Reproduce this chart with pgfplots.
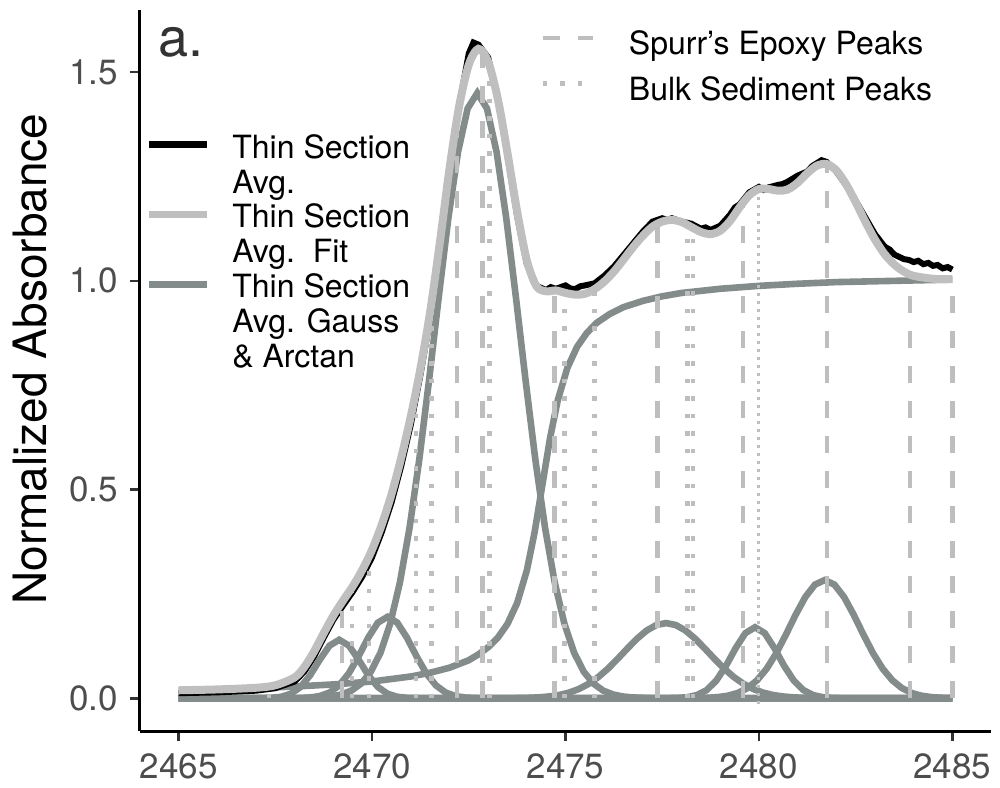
\documentclass[border=0pt]{standalone}
\usepackage{pgfplots}
\pgfplotsset{compat=1.18}
\usepackage{fontspec}
\setmainfont{TeX Gyre Heros}
\definecolor{fitc}{RGB}{191,191,191}
\definecolor{compc}{RGB}{131,139,139}
\definecolor{segc}{RGB}{190,190,190}
\definecolor{tickc}{RGB}{77,77,77}
\newcommand{\lstrut}{\rule[-4.5pt]{0pt}{19.5pt}}
\newcommand{\rstrut}{\rule[-7.75pt]{0pt}{26pt}}
\begin{document}
\begin{tikzpicture}
\pgfplotsset{
  base/.style={
    scale only axis, width=425.5pt, height=360.5pt,
    xmin=2464, xmax=2486, ymin=-0.0786, ymax=1.649,
    legend cell align=left,
  },
  comp/.style={line width=3.3pt, color=compc, forget plot},
  dsh/.style={line width=2.3pt, color=segc, dash pattern=on 8.75pt off 8.75pt, forget plot},
  dtt/.style={line width=2.3pt, color=segc, dash pattern=on 2.2pt off 6.55pt, forget plot},
}
\begin{axis}[base,
  axis x line*=bottom, axis y line*=left,
  axis line style={line width=1.5pt, black},
  xtick={2465,2470,2475,2480,2485}, xticklabels={2465,2470,2475,2480,2485},
  ytick={0,0.5,1,1.5}, yticklabels={0.0,0.5,1.0,1.5},
  tick align=outside, major tick length=5pt,
  tick style={line width=1.3pt, color=black!80},
  ticklabel style={font=\fontsize{17.5}{20}\selectfont, text=tickc},
  xticklabel style={yshift=-3pt},
  yticklabel style={xshift=-2.5pt},
  /pgf/number format/assume math mode=true,
  ylabel={Normalized Absorbance},
  ylabel style={font=\fontsize{23}{26}\selectfont, at={(axis description cs:-0.1293,0.516)}, anchor=center},
  legend image code/.code={\draw[#1] (0pt,0pt) -- (29pt,0pt);},
  legend style={at={(rel axis cs:0.00588,0.8364)}, anchor=north west, draw=none, fill=none,
    inner sep=0pt, column sep=11pt, row sep=0.9pt, nodes={inner sep=0pt},
    font=\fontsize{16}{18}\selectfont},
]
% Gaussian components
\addplot[comp] coordinates {(2465,0) (2467.15,0) (2467.4,0.0009) (2467.65,0.0034) (2467.9,0.0106) (2468.15,0.0268) (2468.4,0.0552) (2468.65,0.0926) (2468.9,0.126) (2469.15,0.14) (2469.4,0.126) (2469.65,0.0926) (2469.9,0.0552) (2470.15,0.0268) (2470.4,0.0106) (2470.65,0.0034) (2470.9,0.0009) (2471.15,0) (2485,0)};
\addplot[comp] coordinates {(2465,0) (2467.9,0) (2468.15,0.0005) (2468.4,0.0017) (2468.65,0.0052) (2468.9,0.0136) (2469.15,0.0307) (2469.4,0.0597) (2469.65,0.1002) (2469.9,0.1451) (2470.15,0.1811) (2470.4,0.195) (2470.65,0.1811) (2470.9,0.1451) (2471.15,0.1002) (2471.4,0.0597) (2471.65,0.0307) (2471.9,0.0136) (2472.15,0.0052) (2472.4,0.0017) (2472.65,0.0005) (2472.9,0) (2485,0)};
\addplot[comp] coordinates {(2465,0) (2467.72,0) (2468.22,0.0003) (2468.72,0.0019) (2468.97,0.0043) (2469.22,0.0092) (2469.47,0.0184) (2469.72,0.0352) (2469.97,0.0637) (2470.22,0.1096) (2470.47,0.179) (2470.72,0.2777) (2470.97,0.409) (2471.22,0.572) (2471.47,0.760) (2471.72,0.959) (2471.97,1.149) (2472.22,1.308) (2472.47,1.413) (2472.72,1.45) (2472.97,1.413) (2473.22,1.308) (2473.47,1.149) (2473.72,0.959) (2473.97,0.760) (2474.22,0.572) (2474.47,0.409) (2474.72,0.2777) (2474.97,0.179) (2475.22,0.1096) (2475.47,0.0637) (2475.72,0.0352) (2475.97,0.0184) (2476.22,0.0092) (2476.47,0.0043) (2476.72,0.0019) (2477.22,0.0003) (2477.72,0) (2485,0)};
\addplot[comp] coordinates {(2465,0) (2473.35,0) (2473.6,0.0002) (2473.85,0.0005) (2474.1,0.0011) (2474.35,0.0023) (2474.6,0.0044) (2474.85,0.0079) (2475.1,0.0136) (2475.35,0.0222) (2475.6,0.0345) (2475.85,0.0508) (2476.1,0.0710) (2476.35,0.0944) (2476.6,0.1191) (2476.85,0.1427) (2477.1,0.1623) (2477.35,0.1754) (2477.6,0.18) (2477.85,0.1754) (2478.1,0.1623) (2478.35,0.1427) (2478.6,0.1191) (2478.85,0.0944) (2479.1,0.0710) (2479.35,0.0508) (2479.6,0.0345) (2479.85,0.0222) (2480.1,0.0136) (2480.35,0.0079) (2480.6,0.0044) (2480.85,0.0023) (2481.1,0.0011) (2481.35,0.0005) (2481.6,0.0002) (2481.85,0) (2485,0)};
\addplot[comp] coordinates {(2465,0) (2477.4,0) (2477.65,0.0002) (2477.9,0.0007) (2478.15,0.0024) (2478.4,0.0075) (2478.65,0.0194) (2478.9,0.0424) (2479.15,0.0778) (2479.4,0.1201) (2479.65,0.1559) (2479.9,0.17) (2480.15,0.1559) (2480.4,0.1201) (2480.65,0.0778) (2480.9,0.0424) (2481.15,0.0194) (2481.4,0.0075) (2481.65,0.0024) (2481.9,0.0007) (2482.15,0.0002) (2482.4,0) (2485,0)};
\addplot[comp] coordinates {(2465,0) (2478.2,0) (2478.45,0.0004) (2478.7,0.0011) (2478.95,0.0027) (2479.2,0.0060) (2479.45,0.0124) (2479.7,0.0240) (2479.95,0.0427) (2480.2,0.0706) (2480.45,0.1079) (2480.7,0.1527) (2480.95,0.2000) (2481.2,0.2425) (2481.45,0.2723) (2481.7,0.283) (2481.95,0.2723) (2482.2,0.2425) (2482.45,0.2000) (2482.7,0.1527) (2482.95,0.1079) (2483.2,0.0706) (2483.45,0.0427) (2483.7,0.0240) (2483.95,0.0124) (2484.2,0.0060) (2484.45,0.0027) (2484.7,0.0011) (2484.95,0.0004) (2485,0)};
% arctan step
\addplot[comp] coordinates {(2465,0.019) (2466,0.021) (2467,0.024) (2468,0.028) (2469,0.033) (2470,0.040) (2470.5,0.046) (2471,0.052) (2471.5,0.061) (2472,0.073) (2472.5,0.091) (2472.75,0.105) (2473,0.122) (2473.25,0.145) (2473.5,0.178) (2473.75,0.228) (2474,0.306) (2474.2,0.397) (2474.4,0.510) (2474.6,0.623) (2474.8,0.714) (2475.05,0.792) (2475.3,0.842) (2475.55,0.875) (2475.8,0.899) (2476.15,0.921) (2476.5,0.937) (2477,0.952) (2477.5,0.963) (2478,0.971) (2479,0.981) (2480,0.988) (2481,0.993) (2482,0.997) (2483,0.999) (2484,1.001) (2485,1.003)};
% measured average
\addplot[line width=3pt, black, forget plot] coordinates {(2465,0.012) (2466,0.014) (2467,0.018) (2467.5,0.024) (2468,0.040) (2468.25,0.064) (2468.5,0.100) (2468.75,0.145) (2469,0.188) (2469.25,0.222) (2469.5,0.255) (2469.75,0.292) (2470,0.338) (2470.25,0.398) (2470.5,0.468) (2470.75,0.555) (2471,0.655) (2471.25,0.775) (2471.5,0.910) (2471.75,1.080) (2472,1.262) (2472.25,1.42) (2472.5,1.545) (2472.62,1.571) (2472.75,1.566) (2473,1.535) (2473.25,1.44) (2473.5,1.30) (2473.75,1.155) (2474,1.04) (2474.25,0.988) (2474.5,0.978) (2474.62,0.985) (2474.75,0.981) (2475,0.989) (2475.12,0.982) (2475.25,0.980) (2475.38,0.987) (2475.5,0.989) (2475.75,0.994) (2476,1.012) (2476.25,1.034) (2476.5,1.062) (2476.75,1.09) (2477,1.118) (2477.25,1.142) (2477.5,1.150) (2477.62,1.146) (2477.75,1.150) (2478,1.142) (2478.25,1.137) (2478.5,1.125) (2478.62,1.128) (2478.75,1.122) (2479,1.132) (2479.25,1.158) (2479.38,1.176) (2479.5,1.183) (2479.75,1.212) (2480,1.225) (2480.12,1.218) (2480.25,1.224) (2480.5,1.230) (2480.62,1.232) (2480.75,1.238) (2481,1.252) (2481.25,1.262) (2481.38,1.275) (2481.5,1.282) (2481.62,1.289) (2481.75,1.285) (2482,1.262) (2482.25,1.230) (2482.5,1.192) (2482.75,1.152) (2483,1.112) (2483.25,1.082) (2483.38,1.075) (2483.5,1.063) (2483.75,1.052) (2483.88,1.050) (2484,1.045) (2484.12,1.048) (2484.25,1.040) (2484.38,1.043) (2484.5,1.036) (2484.62,1.038) (2484.75,1.030) (2484.88,1.033) (2485,1.027)};
% fit
\addplot[line width=4pt, color=fitc, smooth, forget plot] coordinates {(2465,0.019) (2466,0.021) (2467,0.025) (2467.5,0.031) (2468,0.050) (2468.25,0.075) (2468.5,0.112) (2468.75,0.156) (2469,0.198) (2469.25,0.234) (2469.5,0.268) (2469.75,0.308) (2470,0.356) (2470.25,0.416) (2470.5,0.488) (2470.75,0.575) (2471,0.675) (2471.25,0.790) (2471.5,0.925) (2471.75,1.090) (2472,1.268) (2472.25,1.418) (2472.5,1.518) (2472.75,1.556) (2473,1.525) (2473.25,1.436) (2473.5,1.306) (2473.75,1.166) (2474,1.049) (2474.25,0.987) (2474.5,0.975) (2474.75,0.977) (2475,0.971) (2475.25,0.967) (2475.5,0.969) (2475.75,0.980) (2476,0.998) (2476.25,1.022) (2476.5,1.051) (2476.75,1.081) (2477,1.108) (2477.25,1.130) (2477.5,1.142) (2477.75,1.146) (2478,1.141) (2478.25,1.129) (2478.5,1.117) (2478.75,1.112) (2479,1.120) (2479.25,1.143) (2479.5,1.176) (2479.75,1.205) (2480,1.220) (2480.25,1.220) (2480.5,1.216) (2480.75,1.219) (2481,1.235) (2481.25,1.258) (2481.5,1.276) (2481.75,1.280) (2482,1.265) (2482.25,1.232) (2482.5,1.189) (2482.75,1.142) (2483,1.099) (2483.25,1.064) (2483.5,1.039) (2483.75,1.022) (2484,1.012) (2484.5,1.005) (2485,1.004)};
\node[font=\fontsize{27}{30}\selectfont, text=black!80] at (axis cs:2465.05,1.572) {a.};
\addlegendimage{line width=3.5pt, black}
\addlegendentry{\lstrut Thin Section}
\addlegendimage{empty legend}
\addlegendentry{\lstrut Avg.}
\addlegendimage{line width=3.5pt, fitc}
\addlegendentry{\lstrut Thin Section}
\addlegendimage{empty legend}
\addlegendentry{\lstrut Avg.\ \ Fit}
\addlegendimage{line width=3.5pt, compc}
\addlegendentry{\lstrut Thin Section}
\addlegendimage{empty legend}
\addlegendentry{\lstrut Avg. Gauss}
\addlegendimage{empty legend}
\addlegendentry{\lstrut \& Arctan}
\end{axis}
\begin{axis}[base, hide axis,
  legend image code/.code={\draw[#1] (0pt,0pt) -- (25pt,0pt);},
  legend style={at={(rel axis cs:0.470,0.989)}, anchor=north west, draw=none, fill=none,
    inner sep=0pt, column sep=17pt, row sep=3pt, nodes={inner sep=0pt},
    font=\fontsize{16}{18}\selectfont},
]
% Spurr's epoxy peaks (dashed)
\addplot[dsh] coordinates {(2469.22,0) (2469.22,0.238)};
\addplot[dsh] coordinates {(2472.2,0) (2472.2,1.39)};
\addplot[dsh] coordinates {(2472.85,0) (2472.85,1.543)};
\addplot[dsh] coordinates {(2474.71,0) (2474.71,0.977)};
\addplot[dsh] coordinates {(2477.38,0) (2477.38,1.136)};
\addplot[dsh] coordinates {(2479.59,0) (2479.59,1.186)};
\addplot[dsh] coordinates {(2481.76,0) (2481.76,1.279)};
\addplot[dsh] coordinates {(2483.91,0) (2483.91,1.015)};
\addplot[dsh] coordinates {(2485.0,0) (2485.0,1.004)};
% bulk sediment peaks (dotted)
\addplot[dtt] coordinates {(2467.33,0) (2467.33,0.028)};
\addplot[dtt] coordinates {(2469.48,0) (2469.48,0.265)};
\addplot[dtt] coordinates {(2469.92,0) (2469.92,0.345)};
\addplot[dtt] coordinates {(2471.14,0) (2471.14,0.735)};
\addplot[dtt] coordinates {(2471.53,0) (2471.53,0.94)};
\addplot[dtt] coordinates {(2473.03,0) (2473.03,1.515)};
\addplot[dtt] coordinates {(2474.97,0) (2474.97,0.972)};
\addplot[dtt] coordinates {(2475.75,0) (2475.75,0.980)};
\addplot[dtt] coordinates {(2478.15,0) (2478.15,1.134)};
\addplot[dtt] coordinates {(2478.30,0) (2478.30,1.127)};
\addplot[line width=1.5pt, color=segc, dash pattern=on 1.5pt off 2.5pt, forget plot] coordinates {(2480.0,-0.015) (2480.0,1.220)};
\addlegendimage{line width=2.3pt, color=segc, dash pattern=on 8.75pt off 8.75pt}
\addlegendentry{\rstrut Spurr's Epoxy Peaks}
\addlegendimage{line width=2.3pt, color=segc, dash pattern=on 2.2pt off 6.55pt}
\addlegendentry{\rstrut Bulk Sediment Peaks}
\end{axis}
\pgfresetboundingbox
\path (-70pt,-28pt) rectangle (430pt,365.5pt);
\end{tikzpicture}
\end{document}
